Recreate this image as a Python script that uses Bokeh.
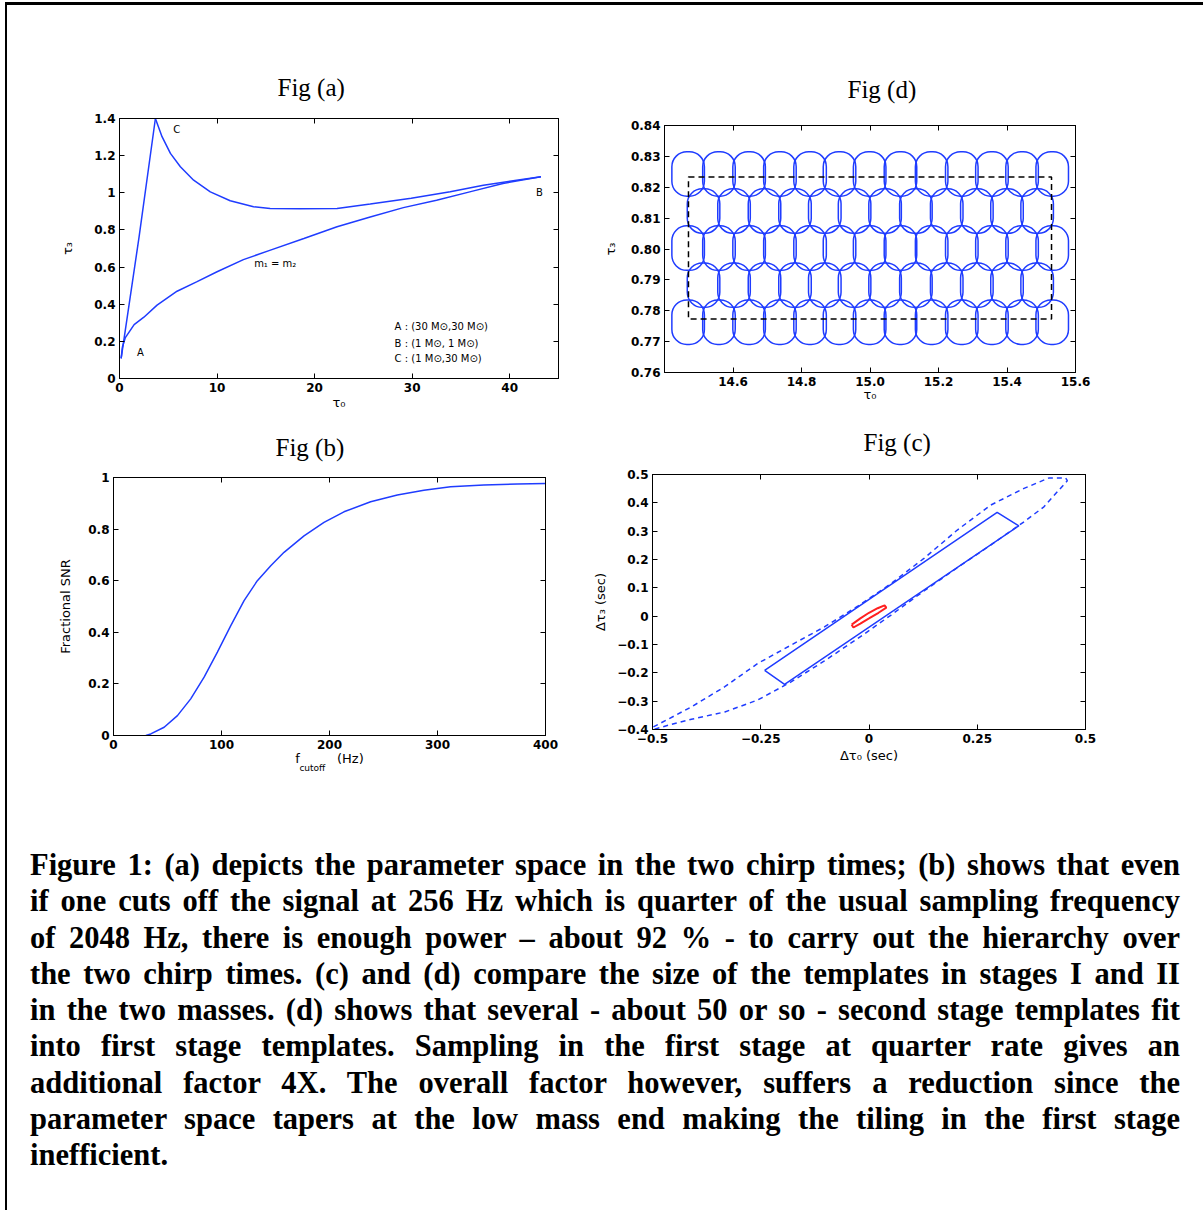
from bokeh.plotting import figure
from bokeh.models import Range1d, FixedTicker, LinearAxis, Title, Div, Rect
from bokeh.layouts import row, column
from bokeh.core.properties import value
from bokeh.embed import file_html
from bokeh.resources import INLINE

BLUE = "#1f3cff"
RED = "#ff2020"
TICK_FONT = "DejaVu Sans"

# ---------------- data: Fig (a) ----------------
a_eq_tau0 = [0.17, 0.3, 0.6, 1.5, 2.5, 3.85, 5.9, 7.9, 10.0, 12.7, 15.4, 18.9, 22.3, 25.7, 29.1, 32.5, 35.9, 39.3, 43.2]
a_eq_tau3 = [0.108, 0.17, 0.22, 0.29, 0.33, 0.395, 0.47, 0.52, 0.575, 0.64, 0.69, 0.754, 0.817, 0.87, 0.92, 0.96, 1.005, 1.05, 1.086]
a_ac_tau0 = [0.17, 2.0, 3.68]
a_ac_tau3 = [0.108, 0.76, 1.40]
a_cb_tau0 = [3.68, 4.36, 5.22, 6.24, 7.60, 9.31, 11.35, 13.74, 15.44, 18.5, 22.3, 25.7, 29.9, 33.9, 37.3, 40.7, 43.2]
a_cb_tau3 = [1.400, 1.302, 1.212, 1.140, 1.068, 1.005, 0.957, 0.925, 0.916, 0.914, 0.916, 0.939, 0.970, 1.005, 1.041, 1.068, 1.086]
a_xticks = [0, 10, 20, 30, 40]
a_yticks = [0, 0.2, 0.4, 0.6, 0.8, 1.0, 1.2, 1.4]
a_ylabels = ["0", "0.2", "0.4", "0.6", "0.8", "1", "1.2", "1.4"]
a_legend = ["A : (30 M\u2299,30 M\u2299)", "B : (1 M\u2299, 1 M\u2299)", "C : (1 M\u2299,30 M\u2299)"]

# ---------------- data: Fig (d) ----------------
d_colA_x = [14.469, 14.559, 14.647, 14.737, 14.825, 14.911, 14.999, 15.089, 15.180, 15.268, 15.356, 15.444, 15.532]
d_rowA_y = [0.8243, 0.8003, 0.7763]
d_colB_x = [14.514, 14.603, 14.692, 14.781, 14.868, 14.955, 15.044, 15.134, 15.224, 15.312, 15.400, 15.488]
d_rowB_y = [0.8123, 0.7883]
d_tmpl_w = 0.095
d_tmpl_h = 0.0144
d_box_x = [14.47, 15.53]
d_box_y = [0.7773, 0.8233]
d_xticks = [14.6, 14.8, 15.0, 15.2, 15.4, 15.6]
d_xlabels = ["14.6", "14.8", "15.0", "15.2", "15.4", "15.6"]
d_yticks = [0.76, 0.77, 0.78, 0.79, 0.80, 0.81, 0.82, 0.83, 0.84]
d_ylabels = ["0.76", "0.77", "0.78", "0.79", "0.80", "0.81", "0.82", "0.83", "0.84"]

# ---------------- data: Fig (b) ----------------
b_f = [30, 34.5, 46.9, 59.2, 71.5, 83.9, 96.2, 108.6, 120.9, 133.2, 145.6, 157.9, 176.4, 194.9, 213.4, 238.1, 262.8, 287.4, 312.1, 342.9, 373.8, 400]
b_snr = [0, 0.006, 0.032, 0.077, 0.142, 0.226, 0.323, 0.426, 0.523, 0.600, 0.658, 0.710, 0.774, 0.826, 0.867, 0.906, 0.932, 0.951, 0.964, 0.971, 0.975, 0.977]
b_xticks = [0, 100, 200, 300, 400]
b_yticks = [0, 0.2, 0.4, 0.6, 0.8, 1.0]
b_ylabels = ["0", "0.2", "0.4", "0.6", "0.8", "1"]

# ---------------- data: Fig (c) ----------------
c_outer_x = [-0.498, -0.410, -0.333, -0.257, -0.180, -0.103, -0.026, 0.051, 0.127, 0.204, 0.281, 0.358, 0.416, 0.454,
             0.458, 0.435, 0.404, 0.358, 0.281, 0.204, 0.127, 0.051, -0.026, -0.103, -0.180, -0.257, -0.333, -0.410, -0.464, -0.498]
c_outer_y = [-0.391, -0.320, -0.249, -0.167, -0.102, -0.038, 0.035, 0.115, 0.204, 0.304, 0.392, 0.451, 0.488, 0.488,
             0.478, 0.439, 0.386, 0.333, 0.251, 0.171, 0.089, 0.004, -0.079, -0.158, -0.232, -0.296, -0.338, -0.364, -0.385, -0.400]
c_box_x = [-0.241, 0.296, 0.346, -0.195, -0.241]
c_box_y = [-0.191, 0.366, 0.319, -0.241, -0.191]
c_red_x = [-0.040, -0.020, 0.000, 0.020, 0.036, 0.040, 0.022, 0.000, -0.020, -0.036, -0.040]
c_red_y = [-0.030, -0.008, 0.012, 0.028, 0.038, 0.030, 0.012, -0.008, -0.026, -0.040, -0.030]
c_xticks = [-0.5, -0.25, 0, 0.25, 0.5]
c_xlabels = ["\u22120.5", "\u22120.25", "0", "0.25", "0.5"]
c_yticks = [-0.4, -0.3, -0.2, -0.1, 0, 0.1, 0.2, 0.3, 0.4, 0.5]
c_ylabels = ["\u22120.4", "\u22120.3", "\u22120.2", "\u22120.1", "0", "0.1", "0.2", "0.3", "0.4", "0.5"]

caption_lines = [
    "Figure 1: (a) depicts the parameter space in the two chirp times; (b) shows that even",
    "if one cuts off the signal at 256 Hz which is quarter of the usual sampling frequency",
    "of 2048 Hz, there is enough power \u2013 about 92 % - to carry out the hierarchy over",
    "the two chirp times. (c) and (d) compare the size of the templates in stages I and II",
    "in the two masses. (d) shows that several - about 50 or so - second stage templates fit",
    "into first stage templates. Sampling in the first stage at quarter rate gives an",
    "additional factor 4X. The overall factor however, suffers a reduction since the",
    "parameter space tapers at the low mass end making the tiling in the first stage",
    "inefficient.",
]


def fmt(ticks, labels=None):
    if labels is None:
        labels = [str(t) for t in ticks]
    return {t: l for t, l in zip(ticks, labels)}


def style_axis(ax, ticks, labels=None, show=True):
    ax.ticker = FixedTicker(ticks=ticks)
    ax.minor_tick_line_color = None
    ax.major_tick_in = 5
    ax.major_tick_out = 0
    ax.axis_line_color = "black"
    ax.major_tick_line_color = "black"
    ax.major_label_text_font = TICK_FONT
    ax.major_label_text_color = "black"
    ax.axis_label_text_font = TICK_FONT
    ax.axis_label_text_font_style = "normal"
    ax.axis_label_text_color = "black"
    ax.axis_label_text_font_size = "13px"
    if show:
        ax.major_label_overrides = fmt(ticks, labels)
        ax.major_label_text_font_size = "12px"
        ax.major_label_text_font_style = "bold"
        ax.major_label_standoff = 4
    else:
        ax.major_label_overrides = {t: "" for t in ticks}
        ax.major_label_text_font_size = "1px"
        ax.major_label_standoff = 0


def make_fig(w, h, xr, yr, bl, br, bt, bb, xt, xl, yt, yl, title, toff, tstand):
    p = figure(width=w, height=h, x_range=Range1d(*xr), y_range=Range1d(*yr),
               output_backend="svg", toolbar_location=None,
               min_border_left=bl, min_border_right=br, min_border_top=bt, min_border_bottom=bb)
    p.grid.visible = False
    p.outline_line_color = "black"
    p.outline_line_width = 1
    p.background_fill_color = "white"
    p.border_fill_color = "white"
    xa = p.xaxis[0]
    ya = p.yaxis[0]
    style_axis(xa, xt, xl)
    style_axis(ya, yt, yl)
    top = LinearAxis()
    style_axis(top, xt, show=False)
    p.add_layout(top, "above")
    right = LinearAxis()
    style_axis(right, yt, show=False)
    p.add_layout(right, "right")
    p.title = Title(text=title, align="left", offset=toff, text_font="Liberation Serif",
                    text_font_size="25px", text_font_style="normal", text_color="black", standoff=tstand)
    return p, xa, ya


# ---------------- Fig (a) ----------------
fa, fa_x, fa_y = make_fig(583, 409, (0, 45), (0, 1.4), 112, 32, 113, 36,
                          a_xticks, None, a_yticks, a_ylabels, "Fig (a)", 158, 36)
fa_x.axis_label = "\u03c4\u2080"
fa_x.axis_label_standoff = 0
fa_y.axis_label = "\u03c4\u2083"
fa_y.axis_label_standoff = 16
fa.line(a_eq_tau0, a_eq_tau3, line_color=BLUE, line_width=1.5)
fa.line(a_ac_tau0, a_ac_tau3, line_color=BLUE, line_width=1.5)
fa.line(a_cb_tau0, a_cb_tau3, line_color=BLUE, line_width=1.5)
ann_font = value("DejaVu Sans")
fa.text(x=[5.5, 42.7, 1.8], y=[1.34, 1.0, 0.138], text=["C", "B", "A"], text_font=ann_font,
        text_font_size="10px", text_color="black", text_baseline="middle", text_align="left")
fa.text(x=[13.8], y=[0.62], text=["m\u2081 = m\u2082"], text_font=ann_font,
        text_font_size="10px", text_color="black", text_baseline="middle")
fa.text(x=[28.2, 28.2, 28.2], y=[0.278, 0.189, 0.108], text=a_legend, text_font=ann_font,
        text_font_size="10px", text_color="black", text_baseline="middle")

# ---------------- Fig (d) ----------------
fd, fd_x, fd_y = make_fig(613, 402, (14.4, 15.6), (0.76, 0.84), 74, 128, 120, 35,
                          d_xticks, d_xlabels, d_yticks, d_ylabels, "Fig (d)", 183, 46)
fd_x.axis_label = "\u03c4\u2080"
fd_x.axis_label_standoff = -2
fd_y.axis_label = "\u03c4\u2083"
fd_y.axis_label_standoff = 10
ex, ey = [], []
for yy in d_rowA_y:
    for xx in d_colA_x:
        ex.append(xx); ey.append(yy)
for yy in d_rowB_y:
    for xx in d_colB_x:
        ex.append(xx); ey.append(yy)
if "border_radius" in Rect.properties():
    fd.rect(x=ex, y=ey, width=d_tmpl_w, height=d_tmpl_h, fill_color=None, line_color=BLUE,
            line_width=1.5, border_radius=15)
else:
    fd.ellipse(x=ex, y=ey, width=d_tmpl_w, height=d_tmpl_h, fill_color=None, line_color=BLUE, line_width=1.5)
fd.quad(left=[d_box_x[0]], right=[d_box_x[1]], bottom=[d_box_y[0]], top=[d_box_y[1]],
        fill_color=None, line_color="black", line_dash="6 4", line_width=1.5)

# ---------------- Fig (b) ----------------
fb, fb_x, fb_y = make_fig(583, 386, (0, 400), (0, 1), 106, 45, 63, 65,
                          b_xticks, None, b_yticks, b_ylabels, "Fig (b)", 162, 34)
fb_y.axis_label = "Fractional SNR"
fb_y.axis_label_standoff = 12
nb = "\u00a0" * 9
fb_x.axis_label = "f" + nb + "(Hz)"
fb_x.axis_label_standoff = -1
sub = LinearAxis(axis_line_color=None, major_tick_line_color=None, minor_tick_line_color=None,
                 major_label_text_font_size="1px", major_label_standoff=0,
                 major_label_overrides={t: "" for t in b_xticks}, ticker=FixedTicker(ticks=b_xticks),
                 axis_label="cutoff" + "\u00a0" * 12, axis_label_text_font="DejaVu Sans",
                 axis_label_text_font_size="9px", axis_label_text_font_style="normal",
                 axis_label_text_color="black", axis_label_standoff=-12)
fb.add_layout(sub, "below")
fb.line(b_f, b_snr, line_color=BLUE, line_width=1.5)

# ---------------- Fig (c) ----------------
fc, fc_x, fc_y = make_fig(613, 393, (-0.5, 0.5), (-0.4, 0.5), 61, 118, 67, 71,
                          c_xticks, c_xlabels, c_yticks, c_ylabels, "Fig (c)", 211, 38)
fc_x.axis_label = "\u0394\u03c4\u2080 (sec)"
fc_x.axis_label_standoff = 2
fc_y.axis_label = "\u0394\u03c4\u2083 (sec)"
fc_y.axis_label_standoff = 6
fc.line(c_outer_x, c_outer_y, line_color=BLUE, line_width=1.5, line_dash="5 4")
fc.line(c_box_x, c_box_y, line_color=BLUE, line_width=1.5)
fc.line(c_red_x, c_red_y, line_color=RED, line_width=2)

# ---------------- caption ----------------
parts = []
for i, ln in enumerate(caption_lines):
    last = (i == len(caption_lines) - 1)
    st = "text-align:justify;text-align-last:%s;" % ("left" if last else "justify")
    parts.append('<div style="%s">%s</div>' % (st, ln))
html = ('<div style="font-family:\'Liberation Serif\',serif;font-weight:bold;font-size:30.5px;'
        'line-height:36.3px;color:black;width:1150px;margin-top:47px;margin-left:23px;'
        'box-sizing:content-box;padding:0;">'
        + "".join(parts) + "</div>")
cap = Div(text=html, width=1196, height=410, styles={"margin": "0", "padding": "0"})

left = column(row(fa), row(fb), spacing=0)
right = column(row(fd), row(fc), spacing=0)
page = column(row(left, right, spacing=0), cap, spacing=0,
              styles={"border-top": "3px solid black", "border-left": "2px solid black",
                      "margin-left": "5px", "margin-top": "2px"})

open("out.html", "w").write(file_html(page, INLINE))
